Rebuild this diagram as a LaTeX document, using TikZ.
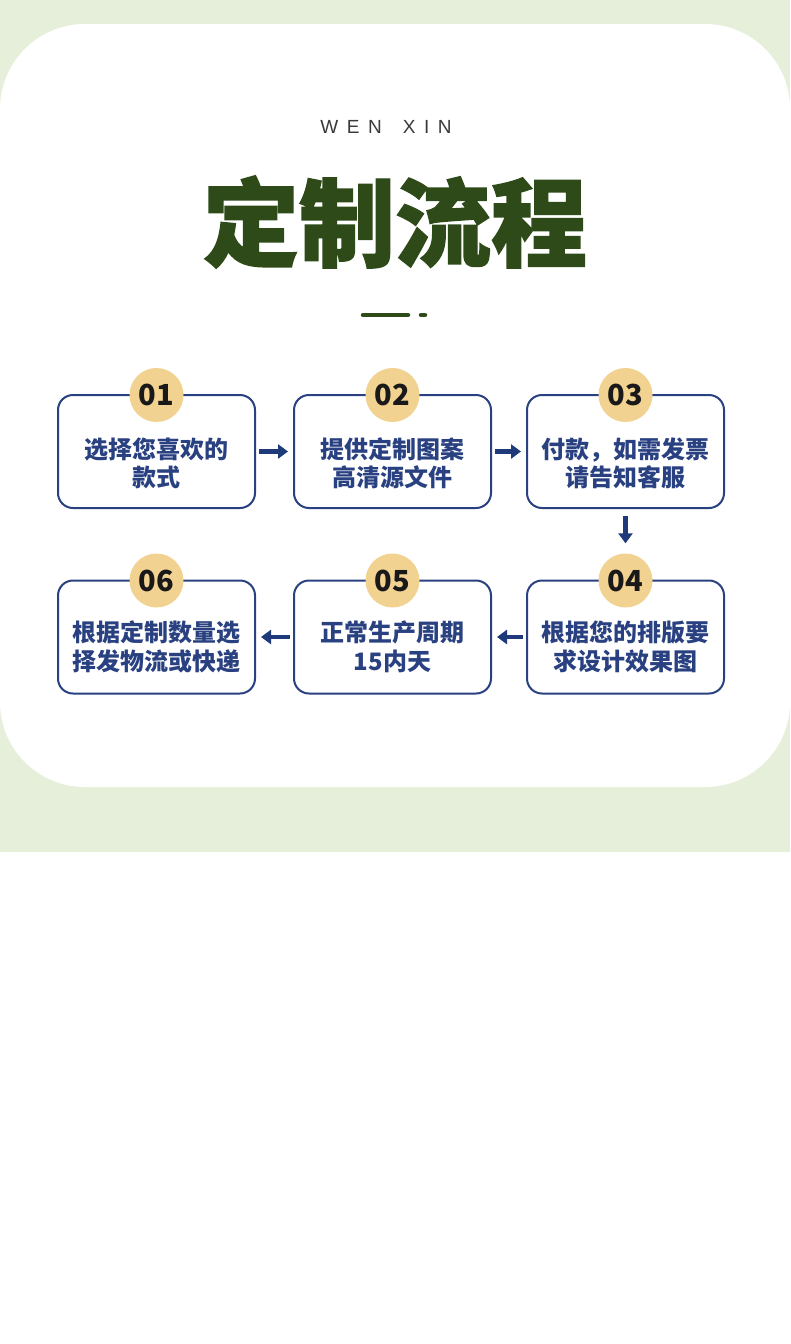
\documentclass[tikz,border=0pt]{standalone}
\usepackage{fontspec}
\usetikzlibrary{arrows.meta}
\newfontfamily\cjk{Noto Sans CJK SC}
\newfontfamily\cjktitle{Noto Sans CJK SC}[BoldFeatures={FakeBold=1.5}]
\newfontfamily\latin{Liberation Sans}[LetterSpace=45]
\definecolor{bggreen}{HTML}{E6EFD9}
\definecolor{darkgreen}{HTML}{2E4A18}
\definecolor{navy}{HTML}{2A4181}
\definecolor{arrownavy}{HTML}{1F3A7A}
\definecolor{gold}{HTML}{F2D290}
\definecolor{graytext}{HTML}{3A3A3A}
\tikzset{
  stepbox/.style={draw=navy, line width=2pt, rounded corners=15pt, fill=white,
    minimum width=197pt, minimum height=113pt, inner sep=0pt},
  steptext/.style={text=navy, font=\cjk\bfseries\fontsize{24}{28.5}\selectfont, align=center, inner sep=0pt},
  badge/.style={circle, fill=gold, minimum size=54pt, inner sep=0pt,
    font=\cjk\bfseries\fontsize{29}{30}\selectfont, text=black!90},
  flow/.style={draw=arrownavy, line width=4.5pt,
    -{Triangle[width=14pt,length=10pt]}, shorten <=3pt, shorten >=5pt}
}
\begin{document}
\begin{tikzpicture}[x=1pt,y=-1pt]
\useasboundingbox (0,0) rectangle (790,1344);
\fill[bggreen] (0,0) rectangle (790,852);
\fill[white] (0,852) rectangle (790,1344);
\fill[white, rounded corners=85pt] (0,24) rectangle (790,787);

\node[font=\latin\fontsize{19}{20}\selectfont, text=graytext] (wx) at (386,127) {WEN\hspace{21pt}XIN};
\node[font=\cjktitle\bfseries\fontsize{96}{100}\selectfont, text=darkgreen] (title) at (395,222) {定制流程};
\coordinate (d1) at (363,315);
\coordinate (d2) at (408,315);
\coordinate (d3) at (421,315);
\coordinate (d4) at (425,315);
\draw[darkgreen, line width=4.5pt, line cap=round] (d1) -- (d2);
\draw[darkgreen, line width=4.5pt, line cap=round] (d3) -- (d4);

% boxes
\node[stepbox] (b1) at (156.5,451.5) {};
\node[stepbox] (b2) at (392.5,451.5) {};
\node[stepbox] (b3) at (625.5,451.5) {};
\node[stepbox] (b4) at (625.5,637) {};
\node[stepbox] (b5) at (392.5,637) {};
\node[stepbox] (b6) at (156.5,637) {};

\node[steptext] (t1) at ([yshift=-12pt]b1.center) {选择您喜欢的\\款式};
\node[steptext] (t2) at ([yshift=-12pt]b2.center) {提供定制图案\\高清源文件};
\node[steptext] (t3) at ([yshift=-12pt]b3.center) {付款，如需发票\\请告知客服};
\node[steptext] (t4) at ([yshift=-10pt]b4.center) {根据您的排版要\\求设计效果图};
\node[steptext] (t5) at ([yshift=-10pt]b5.center) {正常生产周期\\15内天};
\node[steptext] (t6) at ([yshift=-10pt]b6.center) {根据定制数量选\\择发物流或快递};

\node[badge] (c1) at ([yshift=-1pt]b1.north) {01};
\node[badge] (c2) at ([yshift=-1pt]b2.north) {02};
\node[badge] (c3) at ([yshift=-1pt]b3.north) {03};
\node[badge] (c4) at ([yshift=-1pt]b4.north) {04};
\node[badge] (c5) at ([yshift=-1pt]b5.north) {05};
\node[badge] (c6) at ([yshift=-1pt]b6.north) {06};

\draw[flow] (b1.east) -- (b2.west);
\draw[flow] (b2.east) -- (b3.west);
\draw[flow, shorten <=7pt, shorten >=10pt] (b3.south) -- (c4.north);
\draw[flow] (b4.west) -- (b5.east);
\draw[flow] (b5.west) -- (b6.east);
\end{tikzpicture}
\end{document}
